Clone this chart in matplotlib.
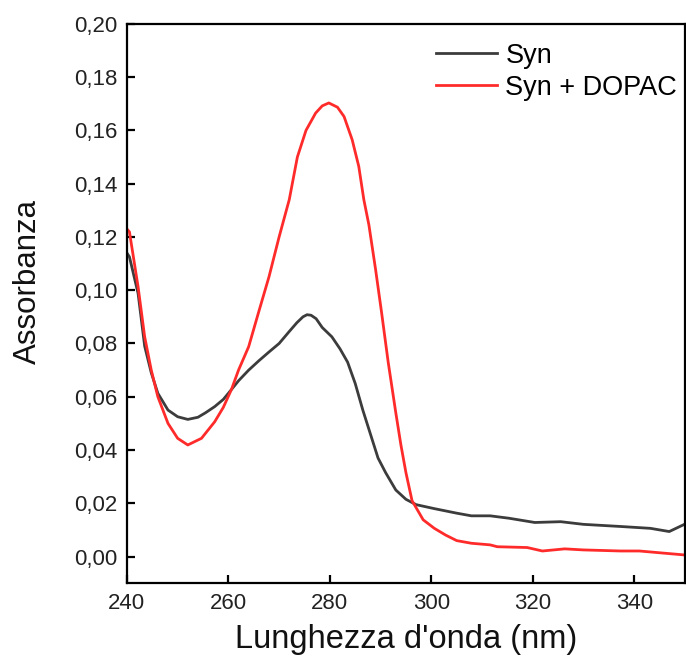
import matplotlib
matplotlib.use("Agg")
import matplotlib.pyplot as plt
from matplotlib.ticker import FuncFormatter, MultipleLocator

# Wavelength (nm) and absorbance
syn_x = [240, 240.5, 242.2, 243.5, 244.8, 246.1, 248.1, 250, 252, 254, 255.5, 257.3,
         259, 260.6, 262, 264, 266, 268, 270, 272, 273.5, 274.7, 275.5, 276.3, 277.3,
         278.5, 280.4, 282, 283.5, 285, 286.5, 288, 289.5, 291, 293, 295, 297, 300.6,
         305, 307.9, 311.6, 315.3, 320.4, 325.5, 330, 337.3, 343.2, 346.9, 350]
syn_y = [0.114, 0.1125, 0.0988, 0.079, 0.069, 0.0613, 0.055, 0.0525, 0.0515, 0.0523,
         0.054, 0.0563, 0.059, 0.0627, 0.066, 0.070, 0.0735, 0.0768, 0.080, 0.0845,
         0.0878, 0.0900, 0.0908, 0.0906, 0.0893, 0.086, 0.0825, 0.078, 0.073, 0.065,
         0.055, 0.046, 0.037, 0.0315, 0.025, 0.0215, 0.0195, 0.018, 0.0163, 0.0153,
         0.0153, 0.0144, 0.0128, 0.0131, 0.0121, 0.0113, 0.0106, 0.0094, 0.0122]

dopac_x = [240, 240.5, 242.2, 243.5, 244.8, 246.1, 248.1, 250, 252, 254.7, 257.3,
           259, 260.6, 262, 264, 266, 268, 270, 272, 273.6, 275.3, 277.2, 278.5, 279.8,
           281.5, 282.8, 284.4, 285.7, 286.7, 287.7, 289, 290.2, 291.5, 293, 294, 295,
           296.2, 298.4, 300.6, 302.8, 305, 307.9, 311.6, 313, 318.9, 321.9, 326.3,
           330, 337.3, 341, 344.6, 350]
dopac_y = [0.123, 0.1219, 0.1013, 0.0825, 0.070, 0.060, 0.050, 0.0444, 0.0419,
           0.0444, 0.0506, 0.056, 0.0627, 0.070, 0.0788, 0.092, 0.105, 0.120, 0.134,
           0.150, 0.160, 0.1665, 0.1692, 0.1703, 0.1687, 0.1652, 0.1565, 0.1465,
           0.134, 0.1245, 0.108, 0.0916, 0.073, 0.054, 0.042, 0.0315, 0.021, 0.0138,
           0.0106, 0.0081, 0.006, 0.005, 0.0044, 0.0037, 0.0034, 0.0021, 0.0029,
           0.0025, 0.0021, 0.0021, 0.0015, 0.0006]

series_labels = ["Syn", "Syn + DOPAC"]
x_ticks = [240, 260, 280, 300, 320, 340]

plt.rcParams['font.family'] = ['Liberation Sans', 'DejaVu Sans']

fig = plt.figure(figsize=(6.86, 6.62), dpi=100)
ax = fig.add_axes([0.185, 0.119, 0.8135, 0.845])

ax.plot(syn_x, syn_y, color='#3c3c3c', lw=2.0, label=series_labels[0])
ax.plot(dopac_x, dopac_y, color='#ff2b2b', lw=2.0, label=series_labels[1])

ax.set_xlim(240, 350)
ax.set_ylim(-0.01, 0.20)
ax.set_xticks(x_ticks)
ax.yaxis.set_major_locator(MultipleLocator(0.02))
ax.yaxis.set_major_formatter(FuncFormatter(lambda v, p: f"{v:.2f}".replace('.', ',').replace('-0,00', '0,00')))

for s in ax.spines.values():
    s.set_linewidth(1.6)
    s.set_color('black')
ax.tick_params(axis='both', direction='in', length=6, width=1.6, labelsize=16,
               top=False, right=False, pad=7, colors='black', labelcolor='#222222')

ax.set_xlabel("Lunghezza d'onda (nm)", fontsize=23.5, labelpad=7, color='#111111')
ax.set_ylabel("Assorbanza", fontsize=22.5, color='#111111')
ax.yaxis.set_label_coords(-0.15, 0.54)

leg = ax.legend(loc='upper right', bbox_to_anchor=(1.02, 1.0), frameon=False,
                fontsize=19.5, handlelength=2.25, handletextpad=0.3,
                labelspacing=0.22, borderaxespad=0.4, borderpad=0.3)

fig.savefig('out.png', dpi=100)
